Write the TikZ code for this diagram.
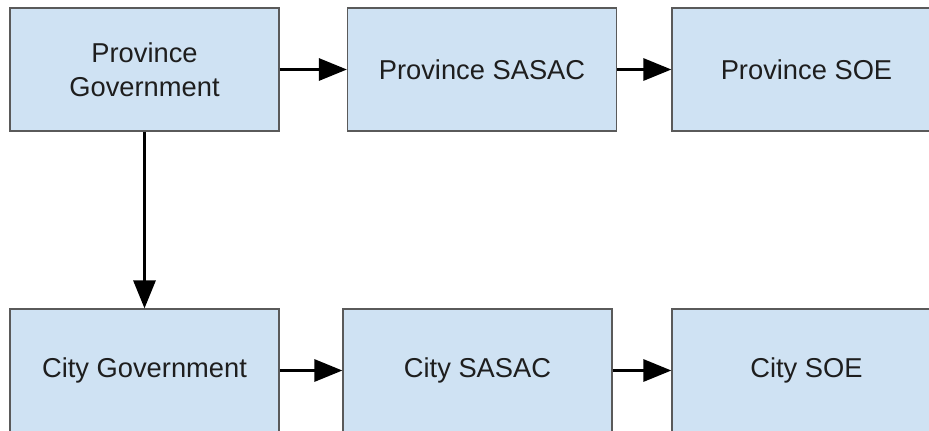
\documentclass[tikz,border=0pt]{standalone}
\usepackage{fontspec}
\setmainfont{Liberation Sans}
\usetikzlibrary{arrows.meta}
\definecolor{boxfill}{HTML}{CFE2F3}
\definecolor{boxline}{HTML}{5A5A5A}
\definecolor{txt}{HTML}{1E1E1E}
\begin{document}
\begin{tikzpicture}[x=1bp,y=-1bp,
  box/.style={draw=boxline,fill=boxfill,line width=1.2bp,inner sep=0pt,
    minimum width=269bp,minimum height=123bp,align=center,
    font=\fontsize{27.3bp}{34bp}\selectfont,text=txt},
  link/.style={line width=3bp,-{Triangle[length=28bp,width=22bp]}}]
\useasboundingbox (0,0) rectangle (929,430);
\clip (0,0) rectangle (929,430);
\node[box] (pg) at (144.5,69.5) {Province\\Government};
\node[box] (ps) at (482,69.5) {Province SASAC};
\node[box] (pe) at (806.5,69.5) {Province SOE};
\node[box] (cg) at (144.5,370.5) {City Government};
\node[box] (cs) at (477.5,370.5) {City SASAC};
\node[box] (ce) at (806.5,370.5) {City SOE};
\draw[link] (pg) -- (ps);
\draw[link] (ps) -- (pe);
\draw[link] (pg) -- (cg);
\draw[link] (cg) -- (cs);
\draw[link] (cs) -- (ce);
\end{tikzpicture}
\end{document}
